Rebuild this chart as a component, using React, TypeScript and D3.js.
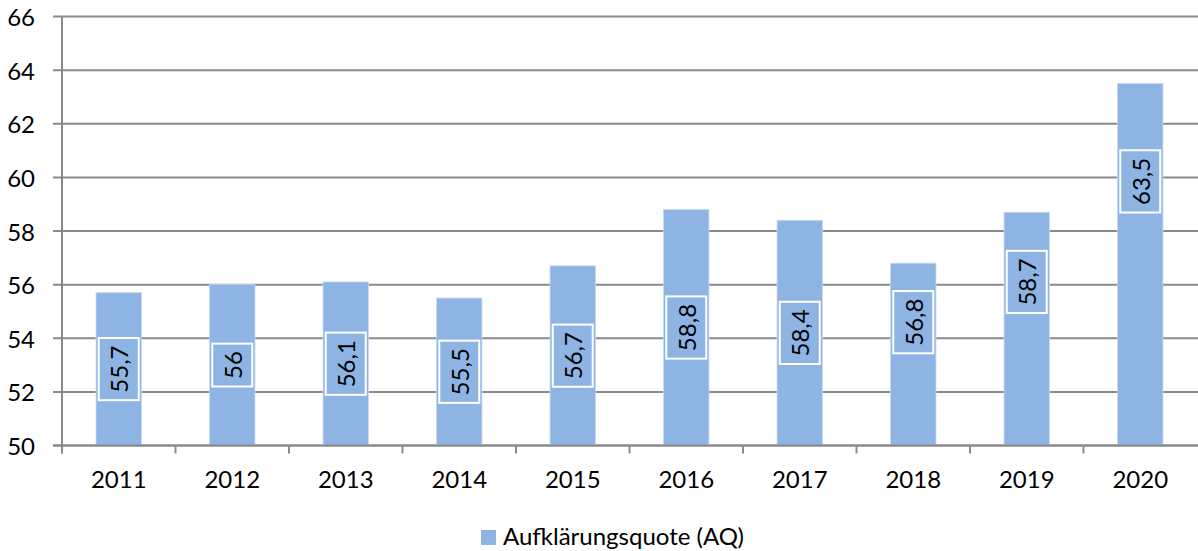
import React, { useEffect, useRef } from 'react';
import * as d3 from 'd3';

const years = ['2011', '2012', '2013', '2014', '2015', '2016', '2017', '2018', '2019', '2020'];
const quote = [55.7, 56, 56.1, 55.5, 56.7, 58.8, 58.4, 56.8, 58.7, 63.5];
// value at which a label sits when it was moved away from the bar middle
const labelAnchor: (number | null)[] = [null, null, null, null, null, null, null, 54.6, 56.1, 59.85];
const yTicks = [50, 52, 54, 56, 58, 60, 62, 64, 66];
const seriesName = 'Aufklärungsquote (AQ)';

const W = 1198;
const H = 551;
const FONT = 'Lato, "Open Sans", sans-serif';
const FS = 24;
const BAR = '#8EB4E3';
const GRID = '#8A8A8A';

const App: React.FC = () => {
  const svgRef = useRef<SVGSVGElement>(null);

  useEffect(() => {
    if (!svgRef.current) return;
    const svg = d3.select(svgRef.current);
    svg.selectAll('*').remove();

    const left = 62, right = 1197, top = 16.5, bottom = 445.5;

    const x = d3.scaleBand<string>().domain(years).range([left, right]).paddingInner(0.6).paddingOuter(0.3);
    const band = d3.scaleBand<string>().domain(years).range([left, right]);
    const y = d3.scaleLinear().domain([50, 66]).range([bottom, top]);

    // gridlines + y labels
    yTicks.forEach(t => {
      svg.append('line')
        .attr('x1', left - 9).attr('x2', W)
        .attr('y1', y(t)).attr('y2', y(t))
        .attr('stroke', GRID).attr('stroke-width', 2);
      svg.append('text')
        .attr('x', 35).attr('y', y(t))
        .attr('text-anchor', 'end').attr('dominant-baseline', 'central')
        .attr('font-family', FONT).attr('font-size', FS).attr('fill', '#000')
        .text(t);
    });

    // y axis
    svg.append('line')
      .attr('x1', left).attr('x2', left)
      .attr('y1', top).attr('y2', bottom + 8)
      .attr('stroke', GRID).attr('stroke-width', 2);

    // x ticks
    years.forEach(yr => {
      const bx = band(yr) ?? 0;
      svg.append('line')
        .attr('x1', bx).attr('x2', bx)
        .attr('y1', bottom).attr('y2', bottom + 8)
        .attr('stroke', GRID).attr('stroke-width', 2);
    });

    // bars
    svg.selectAll('rect.bar')
      .data(quote)
      .enter().append('rect')
      .attr('class', 'bar')
      .attr('x', (_, i) => x(years[i]) ?? 0)
      .attr('width', x.bandwidth())
      .attr('y', d => y(d))
      .attr('height', d => bottom - y(d))
      .attr('fill', BAR)
      .attr('stroke', '#C5D9F1').attr('stroke-width', 0.8);

    // bottom axis line on top of bars
    svg.append('line')
      .attr('x1', left - 9).attr('x2', W)
      .attr('y1', bottom).attr('y2', bottom)
      .attr('stroke', GRID).attr('stroke-width', 2);

    // value labels
    quote.forEach((v, i) => {
      const cx = (x(years[i]) ?? 0) + x.bandwidth() / 2;
      const anchor = labelAnchor[i] ?? (v + 50) / 2;
      const cy = y(anchor);
      const g = svg.append('g').attr('transform', `translate(${cx},${cy}) rotate(-90)`);
      const rect = g.append('rect');
      const txt = g.append('text')
        .attr('text-anchor', 'middle').attr('dominant-baseline', 'central')
        .attr('font-family', FONT).attr('font-size', FS).attr('fill', '#000')
        .text(String(v).replace('.', ','));
      const len = (txt.node() as SVGTextElement).getComputedTextLength();
      const bw = len + 15;
      const bh = 40;
      rect.attr('x', -bw / 2).attr('y', -bh / 2)
        .attr('width', bw).attr('height', bh)
        .attr('fill', BAR).attr('stroke', '#fff').attr('stroke-width', 2);
    });

    // x labels
    years.forEach(yr => {
      svg.append('text')
        .attr('x', (band(yr) ?? 0) + band.bandwidth() / 2)
        .attr('y', 488)
        .attr('text-anchor', 'middle')
        .attr('font-family', FONT).attr('font-size', FS).attr('fill', '#000')
        .text(yr);
    });

    // legend
    svg.append('rect')
      .attr('x', 481).attr('y', 530).attr('width', 15).attr('height', 15)
      .attr('fill', BAR);
    svg.append('text')
      .attr('x', 503).attr('y', 545)
      .attr('font-family', FONT).attr('font-size', FS).attr('fill', '#000')
      .text(seriesName);
  }, []);

  return (
    <svg
      ref={svgRef}
      width={W}
      height={H}
      style={{ position: 'absolute', left: 0, top: 0, background: '#fff' }}
    />
  );
};

export default App;
